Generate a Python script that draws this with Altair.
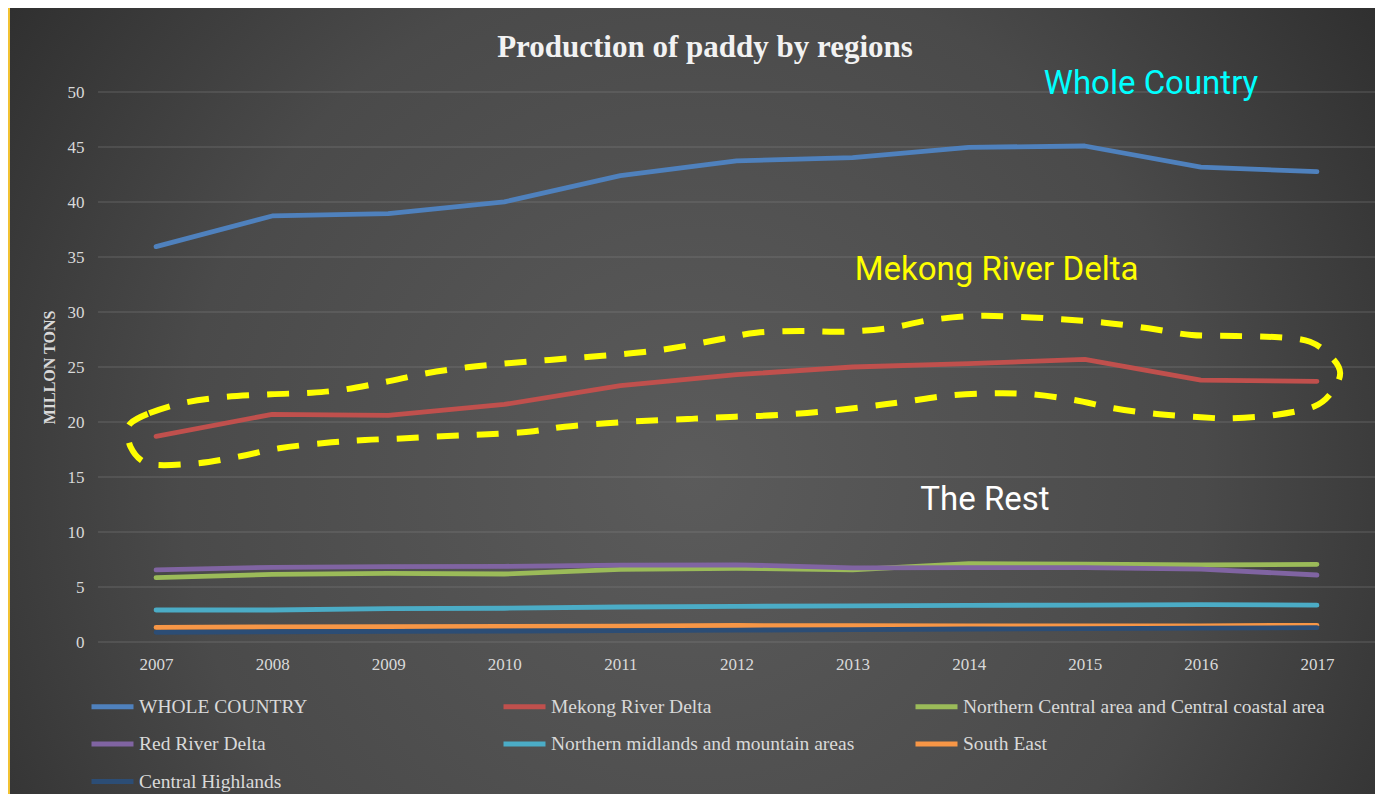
import altair as alt
import pandas as pd

years = list(range(2007, 2018))
regions = [
    " WHOLE COUNTRY",
    "Mekong River Delta",
    "Northern Central area and Central coastal area",
    "Red River Delta",
    "Northern midlands and mountain areas",
    "South East",
    "Central Highlands",
]
whole_country = [35.94, 38.73, 38.95, 40.01, 42.40, 43.74, 44.04, 44.97, 45.09, 43.17, 42.76]
mekong = [18.7, 20.7, 20.6, 21.6, 23.3, 24.3, 25.0, 25.3, 25.7, 23.8, 23.7]
north_central = [5.85, 6.15, 6.24, 6.18, 6.60, 6.70, 6.57, 7.12, 7.08, 7.00, 7.06]
red_river = [6.55, 6.79, 6.85, 6.88, 6.98, 7.02, 6.74, 6.77, 6.76, 6.62, 6.09]
north_midlands = [2.91, 2.91, 3.03, 3.07, 3.18, 3.24, 3.28, 3.33, 3.36, 3.40, 3.35]
south_east = [1.33, 1.37, 1.40, 1.42, 1.45, 1.50, 1.48, 1.47, 1.46, 1.47, 1.52]
central_highlands = [0.88, 0.93, 0.97, 1.00, 1.04, 1.08, 1.12, 1.18, 1.22, 1.26, 1.30]
series = [whole_country, mekong, north_central, red_river, north_midlands, south_east, central_highlands]
colors = ["#4F81BD", "#C0504D", "#9BBB59", "#8064A2", "#4BACC6", "#F79646", "#2C4D75"]
y_ticks = list(range(0, 51, 5))

# dashed outline around the Mekong line (data coordinates)
outline_year = [2006.78, 2006.94, 2007.22, 2007.57, 2007.99, 2008.34, 2008.63, 2008.98, 2009.33, 2009.68,
                2010.03, 2010.39, 2010.74, 2011.09, 2011.44, 2011.86, 2012.17, 2012.55, 2012.92, 2013.30,
                2013.67, 2014.05, 2014.42, 2014.80, 2015.17, 2015.55, 2015.92, 2016.30, 2016.67, 2016.94,
                2017.12, 2017.20, 2017.12, 2016.97, 2016.64, 2016.26, 2016.00, 2015.62, 2015.25, 2014.91,
                2014.54, 2014.20, 2013.82, 2013.45, 2013.11, 2012.74, 2012.36, 2011.99, 2011.69, 2011.58,
                2011.23, 2010.88, 2010.52, 2010.21, 2009.86, 2009.51, 2009.15, 2008.80, 2008.45, 2008.06,
                2007.71, 2007.36, 2007.01, 2006.87, 2006.78, 2006.76]
outline_value = [19.88, 20.79, 21.70, 22.25, 22.52, 22.66, 22.97, 23.66, 24.43, 24.97,
                 25.34, 25.64, 25.94, 26.25, 26.70, 27.52, 28.12, 28.27, 28.21, 28.52,
                 29.27, 29.64, 29.57, 29.34, 29.03, 28.52, 27.91, 27.82, 27.70, 27.30,
                 25.94, 24.43, 22.61, 21.39, 20.64, 20.34, 20.43, 20.73, 21.25, 22.00,
                 22.52, 22.61, 22.39, 21.85, 21.39, 20.94, 20.64, 20.48, 20.34, 20.27,
                 20.12, 19.88, 19.57, 19.12, 18.88, 18.73, 18.52, 18.36, 18.09, 17.61,
                 16.85, 16.25, 16.09, 16.55, 17.75, 18.97]

ann_text = ["Whole Country", "Mekong River Delta", "The Rest"]
ann_year = [2015.57, 2014.24, 2014.14]
ann_value = [50.7, 33.8, 12.9]
ann_color = ["#00FFFF", "#FFFF00", "#FFFFFF"]
title_text = "Production of paddy by regions"

rows = []
for name, vals in zip(regions, series):
    for y, v in zip(years, vals):
        rows.append({"year": y, "value": v, "region": name})
df = pd.DataFrame(rows)
outline_df = pd.DataFrame({"year": outline_year, "value": outline_value, "i": list(range(len(outline_year)))})
grid_df = pd.DataFrame({"value": y_ticks})

serif = "Liberation Serif"
label_col = "#d9d9d9"

X = alt.X("year:Q",
          scale=alt.Scale(domain=[2006.5, 2017.5], nice=False, zero=False),
          axis=alt.Axis(values=years, format="d", grid=False, ticks=False, domain=False,
                        labelFont=serif, labelFontSize=17, labelColor=label_col,
                        labelPadding=14, title=None, zindex=2))
Y = alt.Y("value:Q",
          scale=alt.Scale(domain=[0, 50], nice=False),
          axis=alt.Axis(values=y_ticks, grid=False, ticks=False, domain=False,
                        labelFont=serif, labelFontSize=17, labelColor=label_col, labelPadding=14,
                        title="MILLON TONS", titleFont=serif, titleFontSize=16,
                        titleFontWeight="bold", titleColor=label_col, titlePadding=10, zindex=2))

bg = alt.Chart(pd.DataFrame({"a": [0]})).mark_rect(
    color=alt.RadialGradient(
        gradient="radial", x1=0.5, y1=0.55, r1=0, x2=0.5, y2=0.55, r2=0.75,
        stops=[alt.GradientStop(offset=0, color="#5b5b5b"),
               alt.GradientStop(offset=0.5, color="#4a4a4a"),
               alt.GradientStop(offset=1, color="#1f1f1f")])
).encode(x=alt.value(-88), x2=alt.value(1277), y=alt.value(-84), y2=alt.value(710))

grid = alt.Chart(grid_df).mark_rule(
    color="#8a8a8a", opacity=0.3, strokeWidth=1.3
).encode(y=Y, x=alt.value(0), x2=alt.value(1277))

lines = alt.Chart(df).mark_line(strokeWidth=4.8, strokeCap="round", strokeJoin="round").encode(
    x=X, y=Y,
    color=alt.Color("region:N",
                    scale=alt.Scale(domain=regions, range=colors),
                    sort=regions,
                    legend=alt.Legend(orient="none", legendX=-9, legendY=591, columns=3, title=None,
                                      direction="horizontal",
                                      symbolType="stroke", symbolSize=1764, symbolStrokeWidth=5,
                                      labelFont=serif, labelFontSize=19.5, labelColor=label_col,
                                      labelLimit=600, gridAlign="all", columnPadding=-8,
                                      rowPadding=3.5, labelOffset=3)),
    detail="region:N",
)

outline = alt.Chart(outline_df).mark_line(
    color="#FFFF00", strokeWidth=6, strokeDash=[22, 18], interpolate="cardinal-closed"
).encode(x=X, y=Y, order=alt.Order("i:Q"))

ann_layers = []
for t, yr, v, c in zip(ann_text, ann_year, ann_value, ann_color):
    ann_layers.append(
        alt.Chart(pd.DataFrame({"year": [yr], "value": [v], "t": [t]})).mark_text(
            font="Roboto", fontSize=33, color=c, align="center", baseline="middle"
        ).encode(x=X, y=Y, text="t:N")
    )

title = alt.Chart(pd.DataFrame({"t": [title_text]})).mark_text(
    font=serif, fontSize=31, fontWeight="bold", color="#f2f2f2", align="center", baseline="alphabetic"
).encode(text="t:N", x=alt.value(607), y=alt.value(-35))

chart = alt.layer(bg, grid, lines, outline, *ann_layers, title).properties(
    width=1277, height=550,
    autosize=alt.AutoSizeParams(type="none"),
    padding={"left": 90, "top": 84, "right": 0, "bottom": 152},
    background="#F2C232",
).configure_view(strokeWidth=0)

chart.save("out.html", embed_options={"renderer": "svg", "actions": False})
